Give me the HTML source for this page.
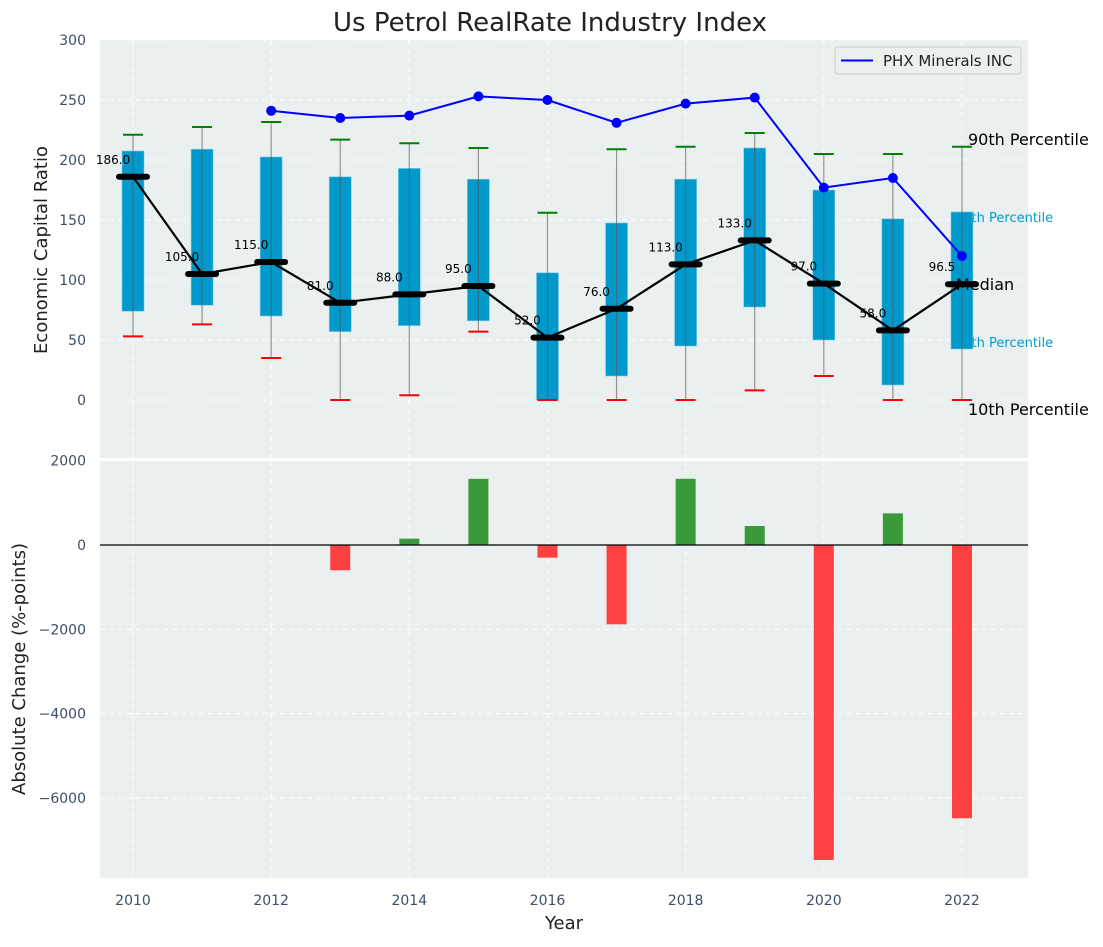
<!DOCTYPE html>
<html><head><meta charset="utf-8"><style>
body{margin:0;background:#fff;font-family:"Liberation Sans","DejaVu Sans",sans-serif;}
svg text{font-family:"DejaVu Sans","Liberation Sans",sans-serif;}
</style></head><body>
<svg id="c" width="1103" height="942" xmlns="http://www.w3.org/2000/svg"></svg>
<script>
const years=[2010,2011,2012,2013,2014,2015,2016,2017,2018,2019,2020,2021,2022];
const q1=[74,79,70,57,62,66,0,20,45,77.5,50,12.5,42.5];
const q3=[207.5,209,202.5,186,193,184,106,147.5,184,210,175,151,156.7];
const wLow=[53,63,35,0,4,57,0,0,0,8,20,0,0];
const wHigh=[221,227.5,231.7,217,214,210,156,209,211,222.5,205,205,211];
const medians=[186,105,115,81,88,95,52,76,113,133,97,58,96.5];
const phxYears=[2012,2013,2014,2015,2016,2017,2018,2019,2020,2021,2022];
const phxVals=[241,235,237,253,250,231,247,252,177,185,120];
const chgYears=[2013,2014,2015,2016,2017,2018,2019,2020,2021,2022];
const chgVals=[-600,150,1570,-300,-1880,1570,450,-7470,750,-6480];
const topTicks=[0,50,100,150,200,250,300];
const botTicks=[-6000,-4000,-2000,0,2000];
const xTicks=[2010,2012,2014,2016,2018,2020,2022];

const svg=document.getElementById('c');
const NS='http://www.w3.org/2000/svg';
function el(t,a,p){const e=document.createElementNS(NS,t);for(const k in a)e.setAttribute(k,a[k]);(p||svg).appendChild(e);return e;}
const X=v=>133+(v-2010)*69.08;
const Y1=v=>400-v*1.2;
const Y2=v=>545-v*0.04217;
const L=100,R=1028,T1=40,B1=458,T2=461,B2=878;

let e=el('rect',{x:L,y:T1,width:R-L,height:B1-T1,fill:'#eaeff0'});

e=el('rect',{x:L,y:T2,width:R-L,height:B2-T2,fill:'#eaeff0'});


xTicks.forEach(t=>{
  el('line',{x1:X(t),x2:X(t),y1:T1,y2:B1,stroke:'#fff','stroke-dasharray':'5,4','stroke-width':1});
  el('line',{x1:X(t),x2:X(t),y1:T2,y2:B2,stroke:'#fff','stroke-dasharray':'5,4','stroke-width':1});
  const tx=el('text',{x:X(t),y:905,'text-anchor':'middle','font-size':14,fill:'#3d4f66'});tx.textContent=t;
  
});
topTicks.forEach(t=>{
  el('line',{x1:L,x2:R,y1:Y1(t),y2:Y1(t),stroke:'#fff','stroke-dasharray':'5,4'});
  const tx=el('text',{x:L-14,y:Y1(t)+5,'text-anchor':'end','font-size':14,fill:'#3d4f66'});tx.textContent=t;
  
});
botTicks.forEach(t=>{
  el('line',{x1:L,x2:R,y1:Y2(t),y2:Y2(t),stroke:'#fff','stroke-dasharray':'5,4'});
  const tx=el('text',{x:L-14,y:Y2(t)+5,'text-anchor':'end','font-size':14,fill:'#3d4f66'});tx.textContent=t<0?'\u2212'+(-t):t;
  
});

[['75th Percentile',Y1(q3[12])+10],['25th Percentile',Y1(q1[12])-2]].forEach(a=>{
  const tx=el('text',{x:955,y:a[1],'font-size':13,fill:'#0099cc'});tx.textContent=a[0];
  
});

years.forEach((y,i)=>{
  const cx=X(y);
  const b=el('rect',{x:cx-11,y:Y1(q3[i]),width:22,height:Y1(q1[i])-Y1(q3[i]),fill:'#0099cc',stroke:'#7fcbe5','stroke-width':0.6});
  
  el('line',{x1:cx,x2:cx,y1:Y1(wHigh[i]),y2:Y1(wLow[i]),stroke:'#555','stroke-opacity':0.6,'stroke-width':1.2});
  const c1=el('line',{x1:cx-10,x2:cx+10,y1:Y1(wHigh[i]),y2:Y1(wHigh[i]),stroke:'green','stroke-width':2});
  
  const c2=el('line',{x1:cx-10,x2:cx+10,y1:Y1(wLow[i]),y2:Y1(wLow[i]),stroke:'red','stroke-width':2});
  
});
const pl=el('polyline',{points:phxYears.map((y,i)=>X(y)+','+Y1(phxVals[i])).join(' '),fill:'none',stroke:'blue','stroke-width':2});

phxYears.forEach((y,i)=>{const d=el('circle',{cx:X(y),cy:Y1(phxVals[i]),r:5,fill:'blue'});
  });
const ml=el('polyline',{points:years.map((y,i)=>X(y)+','+Y1(medians[i])).join(' '),fill:'none',stroke:'#000','stroke-width':2.2});

years.forEach((y,i)=>{
  const m=el('line',{x1:X(y)-14,x2:X(y)+14,y1:Y1(medians[i]),y2:Y1(medians[i]),stroke:'#000','stroke-width':6,'stroke-linecap':'round'});
  
  const t=el('text',{x:X(y)-20,y:Y1(medians[i])-13,'text-anchor':'middle','font-size':12,fill:'#000'});t.textContent=medians[i].toFixed(1);
  
});
[['90th Percentile',Y1(wHigh[12])-2,968],['Median',Y1(medians[12])+6,956],['10th Percentile',Y1(wLow[12])+15,968]].forEach(a=>{
  const tx=el('text',{x:a[2],y:a[1],'font-size':16,fill:'#000'});tx.textContent=a[0];
  
});

chgYears.forEach((y,i)=>{
  const v=chgVals[i];
  const b=el('rect',{x:X(y)-10,y:Math.min(Y2(v),Y2(0)),width:20,height:Math.abs(Y2(v)-Y2(0)),fill:v>=0?'#3a9a3a':'#ff4040'});
  
});
el('line',{x1:L,x2:R,y1:Y2(0),y2:Y2(0),stroke:'#000','stroke-width':1.2});

const lg=el('g',{});

el('rect',{x:835,y:47,width:186,height:27,rx:3,fill:'#eaeff0',stroke:'#ccc'},lg);
el('line',{x1:841,x2:873,y1:60.5,y2:60.5,stroke:'blue','stroke-width':2},lg);
const lt=el('text',{x:883,y:66,'font-size':15,fill:'#222'},lg);lt.textContent='PHX Minerals INC';

let t=el('text',{x:550,y:31,'text-anchor':'middle','font-size':26,fill:'#222'});t.textContent='Us Petrol RealRate Industry Index';

t=el('text',{x:564,y:929,'text-anchor':'middle','font-size':18,fill:'#222'});t.textContent='Year';

t=el('text',{x:0,y:0,'text-anchor':'middle','font-size':18,fill:'#222',transform:'translate(47,250) rotate(-90)'});t.textContent='Economic Capital Ratio';

t=el('text',{x:0,y:0,'text-anchor':'middle','font-size':18,fill:'#222',transform:'translate(25,669) rotate(-90)'});t.textContent='Absolute Change (%-points)';

</script>
</body></html>
